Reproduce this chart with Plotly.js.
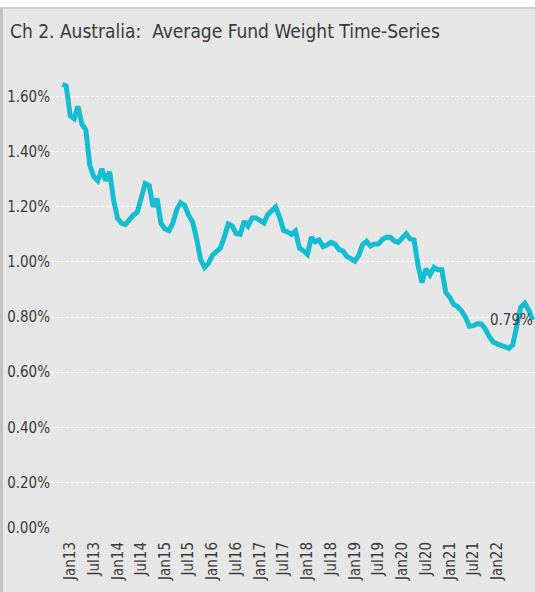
<!DOCTYPE html>
<html>
<head>
<meta charset="utf-8">
<script src="https://cdn.plot.ly/plotly-3.0.1.min.js"></script>
<style>
  html, body { margin: 0; padding: 0; background: #ffffff; }
  #bg { position: absolute; left: 0; top: 7px; width: 535px; height: 585px; box-sizing: border-box;
        background: #e6e6e6; border-top: 2px solid #cdcdcd; border-left: 3px solid #c2c2c2; }
  #chart { position: absolute; left: 0; top: 0; width: 535px; height: 592px; }
</style>
</head>
<body>
<div id="bg"></div>
<div id="chart"></div>
<script>
// Monthly dates, Nov 2012 .. Oct 2022
const startYear = 2012, startMonth = 11;
// Average fund weight (%)
const weights = [
  1.645, 1.639,
  1.53, 1.52, 1.565, 1.50, 1.48, 1.35, 1.31, 1.295, 1.338, 1.295, 1.327, 1.225,
  1.157, 1.14, 1.136, 1.155, 1.17, 1.18, 1.225, 1.285, 1.278, 1.20, 1.23, 1.14,
  1.12, 1.114, 1.14, 1.19, 1.215, 1.205, 1.17, 1.145, 1.085, 1.01, 0.98, 0.995,
  1.025, 1.04, 1.05, 1.09, 1.138, 1.13, 1.103, 1.10, 1.148, 1.13, 1.16, 1.16,
  1.15, 1.142, 1.172, 1.184, 1.20, 1.163, 1.115, 1.109, 1.10, 1.112, 1.05, 1.041,
  1.028, 1.09, 1.073, 1.08, 1.056, 1.062, 1.071, 1.065, 1.045, 1.04, 1.02, 1.012,
  1.003, 1.025, 1.063, 1.075, 1.058, 1.065, 1.065, 1.082, 1.09, 1.09, 1.076, 1.071,
  1.085, 1.103, 1.084, 1.08, 0.99, 0.925, 0.975, 0.953, 0.98, 0.972, 0.972, 0.89,
  0.872, 0.845, 0.838, 0.823, 0.80, 0.767, 0.769, 0.776, 0.775, 0.757, 0.73, 0.71,
  0.703, 0.699, 0.694, 0.687, 0.70, 0.77, 0.835, 0.85, 0.825, 0.79
];
const tickLabels = ["Jan13","Jul13","Jan14","Jul14","Jan15","Jul15","Jan16","Jul16","Jan17",
  "Jul17","Jan18","Jul18","Jan19","Jul19","Jan20","Jul20","Jan21","Jul21","Jan22"];
const tickDates = ["2013-01-01","2013-07-01","2014-01-01","2014-07-01","2015-01-01","2015-07-01",
  "2016-01-01","2016-07-01","2017-01-01","2017-07-01","2018-01-01","2018-07-01","2019-01-01",
  "2019-07-01","2020-01-01","2020-07-01","2021-01-01","2021-07-01","2022-01-01"];
const yTickVals = [0, 0.2, 0.4, 0.6, 0.8, 1.0, 1.2, 1.4, 1.6];
const yTickText = ["", "0.20%", "0.40%", "0.60%", "0.80%", "1.00%", "1.20%", "1.40%", "1.60%"];
const zeroLabel = "0.00%";
const lastLabel = "0.79%";

const dates = weights.map((_, i) => {
  const m0 = startMonth - 1 + i;
  const y = startYear + Math.floor(m0 / 12);
  const m = (m0 % 12) + 1;
  return y + "-" + String(m).padStart(2, "0") + "-01";
});

const FONT = "'Liberation Sans Narrow', 'DejaVu Sans Condensed', Roboto, sans-serif";
const TXT = "#3a3a3a";

Plotly.newPlot("chart", [{
  x: dates, y: weights, type: "scatter", mode: "lines",
  line: { color: "#14bdd0", width: 5 }, hoverinfo: "skip"
}], {
  width: 535, height: 592,
  paper_bgcolor: "rgba(0,0,0,0)", plot_bgcolor: "rgba(0,0,0,0)",
  margin: { l: 51, r: 0, t: 75, b: 54 },
  showlegend: false,
  font: { family: FONT, color: TXT, size: 15 },
  title: { text: "Ch 2. Australia:  Average Fund Weight Time-Series",
    x: 10/535, xanchor: "left", xref: "container",
    y: 1 - 31/592, yanchor: "middle", yref: "container",
    font: { family: FONT, size: 19, color: TXT } },
  xaxis: {
    type: "date", range: ["2012-08-06", "2022-10-19"],
    tickmode: "array", tickvals: tickDates, ticktext: tickLabels,
    tickangle: -90, showgrid: false, zeroline: false, showline: false,
    ticks: "", tickfont: { family: FONT, size: 15, color: TXT }
  },
  yaxis: {
    range: [-0.0015, 1.6785], tickmode: "array", tickvals: yTickVals, ticktext: yTickText,
    showgrid: true, gridcolor: "#ffffff", gridwidth: 1, griddash: "3px,2px",
    zeroline: false, showline: false, ticks: "",
    tickfont: { family: FONT, size: 15, color: TXT }
  },
  annotations: [
    { xref: "paper", yref: "y", x: 0, y: 0, xanchor: "right", yanchor: "middle",
      xshift: 1, yshift: 10, text: zeroLabel, showarrow: false,
      font: { family: FONT, size: 15, color: TXT } },
    { xref: "x", yref: "y", x: dates[dates.length - 1], y: weights[weights.length - 1],
      xanchor: "right", yanchor: "middle", xshift: 2, text: lastLabel, showarrow: false,
      font: { family: FONT, size: 15, color: TXT } }
  ]
}, { displayModeBar: false, staticPlot: true });
</script>
</body>
</html>
